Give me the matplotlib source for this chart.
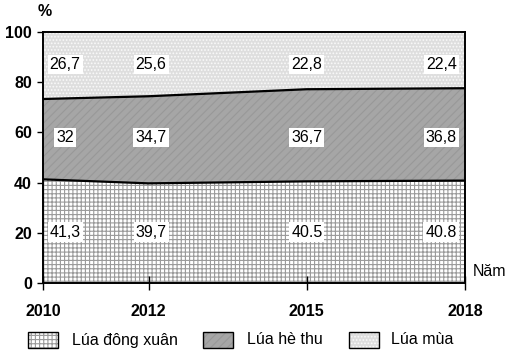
import matplotlib
matplotlib.use("Agg")
import matplotlib.pyplot as plt
from matplotlib.patches import Rectangle
import numpy as np

years = [2010, 2012, 2015, 2018]
dong_xuan = [41.3, 39.7, 40.5, 40.8]
he_thu = [32.0, 34.7, 36.7, 36.8]
mua = [26.7, 25.6, 22.8, 22.4]
series_names = ["Lúa đông xuân", "Lúa hè thu", "Lúa mùa"]
yticks = [0, 20, 40, 60, 80, 100]

plt.rcParams['font.family'] = ['Liberation Sans', 'DejaVu Sans']
plt.rcParams['hatch.linewidth'] = 0.8

W, H = 524, 363
fig = plt.figure(figsize=(W/100, H/100), dpi=100)
ax = fig.add_axes([43/W, 1-283/H, (465-43)/W, (283-32)/H])

y = np.array(years, dtype=float)
s1 = np.array(dong_xuan)
s2 = s1 + np.array(he_thu)
s3 = s2 + np.array(mua)

styles = [
    dict(facecolor='#ffffff', hatch='++++', edgecolor='#9a9a9a'),
    dict(facecolor='#a6a6a6', hatch='////', edgecolor='#989898'),
    dict(facecolor='#dedede', hatch='.....', edgecolor='#fafafa'),
]
ax.fill_between(y, 0, s1, linewidth=0, **styles[0])
ax.fill_between(y, s1, s2, linewidth=0, **styles[1])
ax.fill_between(y, s2, s3, linewidth=0, **styles[2])
ax.plot(y, s1, color='black', lw=1.6)
ax.plot(y, s2, color='black', lw=1.6)

FS = 11.5
ax.set_xlim(2010, 2018)
ax.set_ylim(0, 100)
ax.set_xticks(years)
ax.set_xticklabels([str(v) for v in years], fontsize=FS, fontweight='bold')
ax.set_yticks(yticks)
ax.set_yticklabels([str(v) for v in yticks], fontsize=FS, fontweight='bold')
ax.tick_params(axis='y', direction='out', length=4, width=1, pad=4)
ax.tick_params(axis='x', direction='inout', length=10, width=1, pad=10)
for sp in ax.spines.values():
    sp.set_linewidth(1.4)

def fmt(v):
    return ("%g" % v).replace('.', ',')

xpos = {2010: 2010.42, 2012: 2012.05, 2015: 2015.0, 2018: 2017.55}
rows = [(dong_xuan, 20.3), (he_thu, 58), (mua, 87)]
for vals, ypos in rows:
    for yr, v in zip(years, vals):
        t = fmt(v)
        if vals is dong_xuan and yr in (2015, 2018):
            t = ("%g" % v)
        ax.text(xpos[yr], ypos, t, ha='center', va='center', fontsize=FS,
                bbox=dict(facecolor='white', edgecolor='none', pad=1.5))

fig.text(45/W, 1-12/H, '%', ha='center', va='center', fontsize=FS, fontweight='bold')
fig.text(473/W, 1-272/H, 'Năm', ha='left', va='center', fontsize=FS)

# legend (manual)
box_x = [28, 203, 349]
text_x = [72, 247, 391]
for bx, tx, st, name in zip(box_x, text_x, styles, series_names):
    r = Rectangle((bx/W, 1-348/H), 30/W, 16/H, transform=fig.transFigure,
                  facecolor=st['facecolor'], hatch=st['hatch'], edgecolor=st['edgecolor'],
                  linewidth=0)
    fig.add_artist(r)
    r2 = Rectangle((bx/W, 1-348/H), 30/W, 16/H, transform=fig.transFigure,
                   facecolor='none', edgecolor='black', linewidth=1.0)
    fig.add_artist(r2)
    fig.text(tx/W, 1-340/H, name, ha='left', va='center', fontsize=FS)

fig.savefig('out.png', dpi=100)
